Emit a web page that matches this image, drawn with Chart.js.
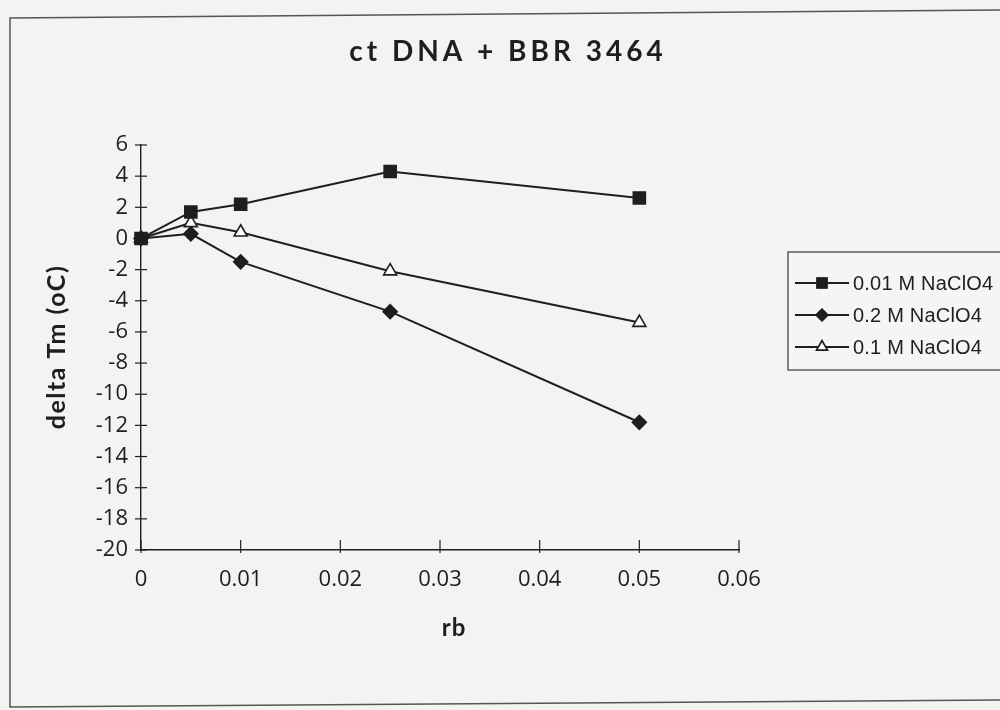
<!DOCTYPE html>
<html>
<head>
<meta charset="utf-8">
<script src="https://cdn.jsdelivr.net/npm/chart.js@4/dist/chart.umd.min.js"></script>
<style>
  html, body { margin: 0; padding: 0; background: #f3f3f1; }
  #wrap { width: 1000px; height: 710px; position: relative; }
</style>
</head>
<body>
<div id="wrap"><canvas id="chart" width="1000" height="710"></canvas></div>
<script>
// data
const rb = [0, 0.005, 0.01, 0.025, 0.05];
const seriesNames = ['0.01 M NaClO4', '0.2 M NaClO4', '0.1 M NaClO4'];
const naclo4_001 = [0, 1.7, 2.2, 4.3, 2.6];
const naclo4_02 = [0, 0.3, -1.5, -4.7, -11.8];
const naclo4_01 = [0, 1.0, 0.4, -2.1, -5.4];
const xTickLabels = ['0', '0.01', '0.02', '0.03', '0.04', '0.05', '0.06'];
const yTickLabels = ['-20', '-18', '-16', '-14', '-12', '-10', '-8', '-6', '-4', '-2', '0', '2', '4', '6'];

const ink = '#1e1e1e';

function toPoints(ys) {
  return rb.map((x, i) => ({ x: x, y: ys[i] }));
}

const datasets = [
  { label: seriesNames[0], data: toPoints(naclo4_001), pointStyle: 'rect', pointRadius: 8.5, backgroundColor: ink },
  { label: seriesNames[1], data: toPoints(naclo4_02), pointStyle: 'rectRot', pointRadius: 7, backgroundColor: ink },
  { label: seriesNames[2], data: toPoints(naclo4_01), pointStyle: 'triangle', pointRadius: 7.5, backgroundColor: '#ffffff' },
].map(d => Object.assign({
  borderColor: ink,
  borderWidth: 2,
  pointBorderColor: ink,
  pointBorderWidth: 1.6,
  pointBackgroundColor: d.backgroundColor,
  tension: 0,
  clip: false,
}, d));

// axes tick marks, frame, titles and the boxed legend
const decor = {
  id: 'decor',
  afterDraw(chart) {
    const ctx = chart.ctx;
    const xs = chart.scales.x, ys = chart.scales.y;
    const area = chart.chartArea;
    ctx.save();
    ctx.strokeStyle = ink;
    ctx.lineWidth = 1.2;
    // y ticks cross the axis
    ys.ticks.forEach(t => {
      const py = ys.getPixelForValue(t.value);
      ctx.beginPath();
      ctx.moveTo(area.left - 6, py);
      ctx.lineTo(area.left + 6, py);
      ctx.stroke();
    });
    // x ticks point up into the plot
    xs.ticks.forEach(t => {
      const px = xs.getPixelForValue(t.value);
      ctx.beginPath();
      ctx.moveTo(px, area.bottom + 3);
      ctx.lineTo(px, area.bottom - 10);
      ctx.stroke();
    });

    // page frame of the scan
    ctx.strokeStyle = '#555';
    ctx.lineWidth = 1.5;
    ctx.beginPath();
    ctx.moveTo(1000, 10);
    ctx.lineTo(10, 18);
    ctx.lineTo(10, 707);
    ctx.lineTo(1000, 700);
    ctx.stroke();

    // titles
    ctx.fillStyle = ink;
    ctx.textAlign = 'center';
    ctx.textBaseline = 'middle';
    const spacing = 'letterSpacing' in ctx;
    ctx.font = 'bold 28px Lato, "DejaVu Sans", sans-serif';
    if (spacing) ctx.letterSpacing = '4px';
    ctx.fillText('ct DNA + BBR 3464', 508, 52);
    ctx.font = 'bold 24px Lato, "DejaVu Sans", sans-serif';
    if (spacing) ctx.letterSpacing = '1px';
    ctx.fillText('rb', 454, 628);
    ctx.save();
    ctx.translate(57, 347);
    ctx.rotate(-Math.PI / 2);
    if (spacing) ctx.letterSpacing = '1.5px';
    ctx.font = 'bold 25px Lato, "DejaVu Sans", sans-serif';
    ctx.fillText('delta Tm (oC)', 0, 0);
    ctx.restore();
    if (spacing) ctx.letterSpacing = '0px';

    // legend box
    const bx = 788, by = 252, bw = 230, bh = 118;
    ctx.fillStyle = '#f5f5f3';
    ctx.fillRect(bx, by, bw, bh);
    ctx.strokeStyle = '#444';
    ctx.lineWidth = 1.3;
    ctx.strokeRect(bx, by, bw, bh);
    chart.data.datasets.forEach((ds, i) => {
      const ly = by + 31 + i * 32;
      ctx.strokeStyle = ink;
      ctx.lineWidth = 2;
      ctx.beginPath();
      ctx.moveTo(bx + 7, ly);
      ctx.lineTo(bx + 61, ly);
      ctx.stroke();
      Chart.helpers.drawPoint(ctx, {
        pointStyle: ds.pointStyle,
        radius: ds.pointRadius * 0.8,
        borderWidth: 1.4,
      }, bx + 34, ly);
      ctx.fillStyle = ds.pointBackgroundColor;
      ctx.strokeStyle = ink;
      ctx.lineWidth = 1.4;
      ctx.fill();
      ctx.stroke();
      ctx.fillStyle = ink;
      ctx.textAlign = 'left';
      ctx.font = '20px "Liberation Sans", Arial, sans-serif';
      if (spacing) ctx.letterSpacing = '0.2px';
      ctx.fillText(ds.label, bx + 65, ly + 1);
      if (spacing) ctx.letterSpacing = '0px';
    });
    ctx.restore();
  }
};

new Chart(document.getElementById('chart').getContext('2d'), {
  type: 'line',
  data: { datasets: datasets },
  options: {
    responsive: false,
    animation: false,
    layout: { padding: { left: 0, top: 145, right: 261, bottom: 0 } },
    plugins: {
      legend: { display: false },
      tooltip: { enabled: false },
      title: { display: false },
    },
    scales: {
      x: {
        type: 'linear',
        min: 0,
        max: 0.06,
        afterFit: s => { s.height = 160; },
        afterBuildTicks: s => { s.ticks = xTickLabels.map(v => ({ value: parseFloat(v) })); },
        ticks: {
          callback: (v, i) => xTickLabels[i],
          color: ink,
          padding: 17,
          maxRotation: 0,
          font: { size: 22, family: '"Open Sans", "DejaVu Sans", sans-serif' },
        },
        grid: { display: false, drawTicks: false },
        border: { display: true, color: ink, width: 1.4 },
      },
      y: {
        type: 'linear',
        min: -20,
        max: 6,
        afterFit: s => { s.width = 141; },
        afterBuildTicks: s => { s.ticks = yTickLabels.map(v => ({ value: parseFloat(v) })); },
        ticks: {
          callback: (v, i) => yTickLabels[i],
          color: ink,
          padding: 13,
          font: { size: 22, family: '"Open Sans", "DejaVu Sans", sans-serif' },
        },
        grid: { display: false, drawTicks: false },
        border: { display: true, color: ink, width: 1.4 },
      },
    },
  },
  plugins: [decor],
});
</script>
</body>
</html>
